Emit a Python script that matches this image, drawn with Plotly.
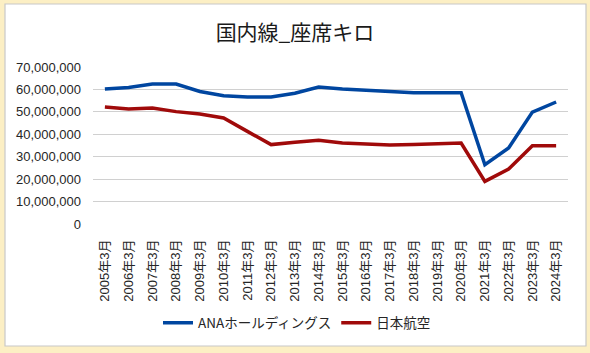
import plotly.graph_objects as go

categories = [f"{y}年3月" for y in range(2005, 2025)]
ana = [60.2, 60.9, 62.4, 62.4, 59.1, 57.2, 56.6, 56.6, 58.3, 61.1,
       60.2, 59.6, 59.3, 58.5, 58.5, 58.5, 26.4, 33.9, 49.9, 54.4]
jal = [52.2, 51.3, 51.7, 50.1, 49.0, 47.3, 41.3, 35.4, 36.4, 37.3,
       36.1, 35.7, 35.2, 35.5, 35.9, 36.1, 19.0, 24.5, 34.9, 34.9]
ana = [v * 1e6 for v in ana]
jal = [v * 1e6 for v in jal]
tick_vals = [i * 10_000_000 for i in range(8)]
tick_text = ["0"] + [f"{v:,}" for v in tick_vals[1:]]

FONT = "Liberation Sans, Noto Sans CJK JP"
W, H = 590, 353
L, R, T, B = 93, 22, 67, 129
pw, ph = W - L - R, H - T - B

def px_x(x):
    return (x - L) / pw

def px_y(y):
    return (H - B - y) / ph

fig = go.Figure()
fig.add_trace(go.Scatter(x=categories, y=ana, mode="lines", name="ANAホールディングス",
                         line=dict(color="#0046a0", width=3.5)))
fig.add_trace(go.Scatter(x=categories, y=jal, mode="lines", name="日本航空",
                         line=dict(color="#a00a0a", width=3.5)))

fig.update_layout(
    width=W, height=H,
    margin=dict(l=L, r=R, t=T, b=B),
    paper_bgcolor="#fcefc4",
    plot_bgcolor="white",
    font=dict(family=FONT, color="#262626"),
    title=dict(text="国内線_座席キロ", x=0.5, xanchor="center", y=1 - 33 / H, yanchor="middle",
               xref="container", yref="container",
               font=dict(size=21, color="#1a1a1a", family="Noto Sans CJK JP")),
    showlegend=True,
    legend=dict(orientation="h", x=px_x(297), xanchor="center", y=px_y(323), yanchor="middle",
                font=dict(size=13.5, color="#262626", family="Noto Sans CJK JP"),
                bgcolor="rgba(0,0,0,0)", itemwidth=30, tracegroupgap=0),
    xaxis=dict(type="category", range=[-0.5, 19.5], tickangle=-90,
               tickfont=dict(size=13, color="#262626"), ticklabelstandoff=12,
               showgrid=False, showline=False, ticks="", zeroline=False),
    yaxis=dict(range=[0, 70_000_000], tickvals=tick_vals, ticktext=tick_text,
               tickfont=dict(size=13, color="#262626"), ticklabelstandoff=11,
               showgrid=True, gridcolor="#d0d0d0",
               gridwidth=1, zeroline=False, showline=False, ticks="", ticklen=0),
    shapes=[
        dict(type="rect", xref="paper", yref="paper", layer="below",
             x0=px_x(5), x1=px_x(586), y0=px_y(346), y1=px_y(4),
             fillcolor="white", line=dict(color="#c8c8c8", width=1.2)),
    ],
)

fig.write_html("out.html")
